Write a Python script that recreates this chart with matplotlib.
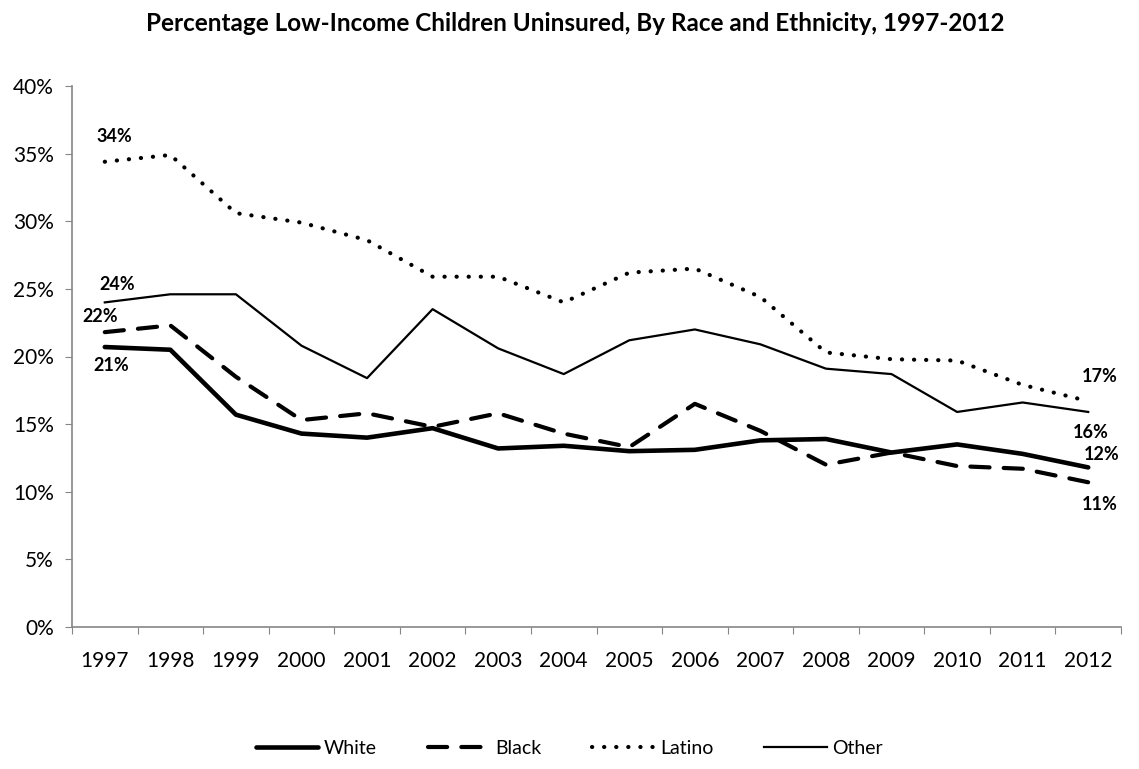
import matplotlib
matplotlib.use("Agg")
import matplotlib.pyplot as plt
from matplotlib.ticker import FixedLocator, PercentFormatter

plt.rcParams['font.family'] = ['Lato', 'DejaVu Sans']

years = [str(y) for y in range(1997, 2013)]
white = [20.7, 20.5, 15.7, 14.3, 14.0, 14.7, 13.2, 13.4, 13.0, 13.1, 13.8, 13.9, 12.9, 13.5, 12.8, 11.8]
black = [21.8, 22.3, 18.5, 15.3, 15.8, 14.8, 15.8, 14.3, 13.3, 16.5, 14.5, 12.0, 12.9, 11.9, 11.7, 10.7]
latino = [34.4, 34.9, 30.6, 29.9, 28.6, 25.9, 25.9, 24.0, 26.2, 26.5, 24.4, 20.3, 19.8, 19.7, 17.9, 16.7]
other = [24.0, 24.6, 24.6, 20.8, 18.4, 23.5, 20.6, 18.7, 21.2, 22.0, 20.9, 19.1, 18.7, 15.9, 16.6, 15.9]

x = range(len(years))
fig = plt.figure(figsize=(11.39, 7.69), dpi=100)
ax = fig.add_axes([72/1139, 1-627/769, (1121-72)/1139, (627-86)/769])

ax.plot(x, white, color='black', lw=3.3, solid_capstyle='round', solid_joinstyle='round', label='White')
ax.plot(x, black, color='black', lw=3.0, dashes=(4.6, 3.4), dash_capstyle='round', label='Black')
ax.plot(x, latino, color='black', lw=3.0, dashes=(0.05, 2.85), dash_capstyle='round', label='Latino')
ax.plot(x, other, color='black', lw=1.6, label='Other')

lab = dict(fontsize=13, fontweight='bold', ha='center', va='center')
ax.annotate('34%', (0, latino[0]), xytext=(7, 18), textcoords='offset points', **lab)
ax.annotate('24%', (0, other[0]), xytext=(9, 13), textcoords='offset points', **lab)
ax.annotate('22%', (0, black[0]), xytext=(-3, 11), textcoords='offset points', **lab)
ax.annotate('21%', (0, white[0]), xytext=(5, -13), textcoords='offset points', **lab)
ax.annotate('17%', (15, latino[-1]), xytext=(8, 18), textcoords='offset points', **lab)
ax.annotate('16%', (15, other[-1]), xytext=(2, -15), textcoords='offset points', **lab)
ax.annotate('12%', (15, white[-1]), xytext=(10, 9), textcoords='offset points', **lab)
ax.annotate('11%', (15, black[-1]), xytext=(8, -16), textcoords='offset points', **lab)

ax.set_xlim(-0.5, 15.5)
ax.set_ylim(0, 40)
ax.yaxis.set_major_locator(FixedLocator(range(0, 41, 5)))
ax.yaxis.set_major_formatter(PercentFormatter(decimals=0))
ax.xaxis.set_major_locator(FixedLocator([i - 0.5 for i in range(17)]))
ax.xaxis.set_major_formatter(plt.NullFormatter())
ax.xaxis.set_minor_locator(FixedLocator(list(x)))
ax.set_xticklabels(years, minor=True)
ax.tick_params(axis='x', which='major', direction='out', length=5, color='#868686')
ax.tick_params(axis='x', which='minor', length=0, pad=17, labelsize=15)
ax.tick_params(axis='y', direction='out', length=5, color='#868686', labelsize=15, pad=8)
for s in ['top', 'right']:
    ax.spines[s].set_visible(False)
for s in ['left', 'bottom']:
    ax.spines[s].set_color('#868686')
    ax.spines[s].set_linewidth(1.2)

fig.suptitle('Percentage Low-Income Children Uninsured, By Race and Ethnicity, 1997-2012',
             x=0.505, y=0.969, va='center', fontsize=17.5, fontweight='bold')
fig.legend(loc='center', bbox_to_anchor=(0.5, 0.027), ncol=4, frameon=False,
           fontsize=14, handlelength=3.2, handletextpad=0.3, columnspacing=2.6)

fig.savefig('out.png')
plt.close(fig)
